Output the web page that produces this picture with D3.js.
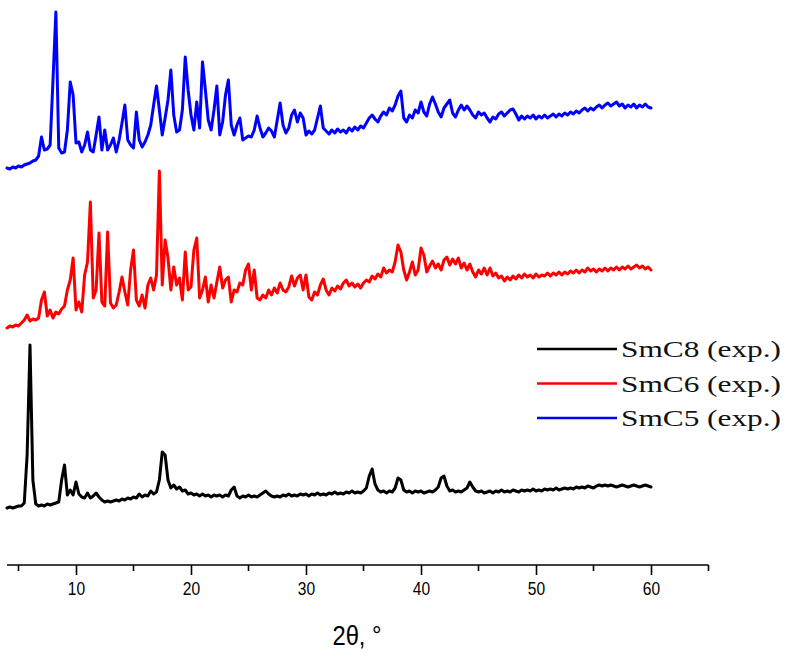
<!DOCTYPE html>
<html>
<head>
<meta charset="utf-8">
<script src="https://cdn.jsdelivr.net/npm/d3@7"></script>
<style>
  html, body { margin: 0; padding: 0; background: #fff; }
  svg { display: block; }
</style>
</head>
<body>
<svg id="chart" width="792" height="666"></svg>
<script>
// Powder XRD patterns, 2θ from 4° to 60° in 0.25° steps
const twoThetaStart = 4.0;
const twoThetaStep = 0.25;

const seriesNames = ["SmC8 (exp.)", "SmC6 (exp.)", "SmC5 (exp.)"];
const seriesColors = ["#000000", "#ff0000", "#0000ff"];
// vertical shift applied to each pattern when stacked
const seriesOffsets = [0, 200, 360];

const smc8 = [
  57,58,57,58,59,59,62,110,220,85,61,59,60,59,61,60,61,62,63,85,
  100,70,75,70,83,71,68,67,72,67,69,72,68,65,63,64,63,64,65,64,
  66,65,67,66,68,67,71,68,70,69,74,71,73,85,113,110,85,77,80,76,
  78,74,75,71,72,70,71,69,71,69,70,68,70,69,70,68,70,69,75,78,
  69,67,69,68,70,68,69,68,70,72,74,71,69,68,69,68,70,69,71,69,
  70,69,71,70,71,69,71,70,72,70,71,70,72,71,73,71,72,71,73,72,
  74,72,73,72,74,77,89,96,81,75,73,74,72,74,73,77,87,85,75,73,
  74,72,74,73,74,72,73,74,73,75,78,87,89,79,74,75,73,74,73,75,
  77,83,78,74,73,74,72,73,74,72,74,73,75,73,74,73,75,74,73,75,
  74,75,74,76,74,75,74,76,75,76,75,77,75,76,77,76,77,76,78,77,
  78,77,79,78,77,79,80,79,80,79,80,79,78,79,80,79,78,79,80,79,
  78,79,80,79,78
];

const smc6 = [
  37,39,38,40,39,42,45,50,44,46,45,47,65,73,49,55,47,53,51,56,
  59,75,85,107,55,63,53,90,103,163,67,75,132,63,59,133,62,57,60,73,
  88,73,60,95,115,65,59,70,57,80,87,75,90,194,80,125,107,75,98,80,
  87,65,113,75,78,115,127,67,75,88,63,80,67,83,98,77,85,88,63,75,
  73,82,80,95,101,75,95,67,65,70,67,75,70,77,72,82,75,73,78,89,
  79,87,90,75,90,68,65,73,70,80,86,75,70,77,74,79,76,82,85,79,
  82,78,81,77,82,85,83,89,86,91,88,97,92,95,93,103,120,113,95,85,
  93,103,90,95,117,110,93,99,104,97,101,95,105,108,100,106,101,107,97,102,
  95,101,93,88,95,91,97,90,97,89,92,87,89,84,88,85,89,86,90,87,
  91,88,90,87,91,88,90,89,92,89,92,90,93,90,93,91,94,92,95,92,
  95,93,97,94,96,93,96,94,97,94,97,95,98,95,98,96,99,96,98,100,
  97,99,96,98,95
];

const smc5 = [
  37,36,38,37,39,38,40,41,42,44,45,49,68,55,56,60,125,193,57,52,
  53,75,123,110,62,63,53,60,73,55,53,70,88,55,75,55,60,67,53,65,
  82,100,65,60,57,93,65,58,63,70,80,100,119,95,70,87,105,135,90,73,
  75,95,148,115,90,75,103,77,143,115,85,75,95,119,70,83,110,125,80,70,
  80,87,65,67,69,68,75,89,77,68,72,77,74,68,85,102,80,72,77,90,
  95,83,92,87,70,74,71,75,87,99,77,74,71,75,72,76,73,75,72,77,
  74,78,75,79,77,82,87,90,86,83,89,93,90,97,94,100,109,114,87,83,
  90,87,95,92,103,93,89,101,108,101,93,88,97,101,105,92,88,95,100,95,
  99,95,90,87,93,90,92,87,83,88,86,91,93,89,92,95,96,91,85,89,
  86,89,87,90,86,89,87,90,87,89,91,88,91,89,92,90,93,91,94,92,
  95,97,94,97,95,98,100,97,100,102,99,101,103,99,101,97,100,98,101,97,
  100,98,101,98,97
];

const xTickValues = [10, 20, 30, 40, 50, 60];
const xMinorTickValues = [5, 15, 25, 35, 45, 55, 65];
const xTitle = "2\u03b8, \u00b0";

const series = [smc8, smc6, smc5].map((vals, k) => ({
  name: seriesNames[k],
  color: seriesColors[k],
  offset: seriesOffsets[k],
  points: vals.map((v, i) => [twoThetaStart + i * twoThetaStep, v])
}));

const svg = d3.select("#chart");

const x = d3.scaleLinear().domain([4, 65]).range([7, 708.5]);
const y = d3.scaleLinear().domain([0, 560]).range([565, 5]);

const line = d3.line()
  .x(d => x(d[0]))
  .y(d => y(d[1]));

const order = [2, 1, 0];
svg.append("g")
  .selectAll("path")
  .data(order.map(k => series[k]))
  .join("path")
  .attr("fill", "none")
  .attr("stroke", d => d.color)
  .attr("stroke-width", 3)
  .attr("stroke-linejoin", "round")
  .attr("stroke-linecap", "round")
  .attr("d", d => line(d.points.map(p => [p[0], p[1] + d.offset])));

// bottom axis with major and minor ticks
const axisY = 565;
const axisFont = "'Liberation Sans', Arial, sans-serif";
const axisG = svg.append("g").attr("transform", `translate(0,${axisY})`);

axisG.call(d3.axisBottom(x)
    .tickValues(xTickValues)
    .tickFormat(d3.format("d"))
    .tickSize(10)
    .tickPadding(7))
  .call(g => g.select(".domain").attr("stroke", "#000").attr("stroke-width", 1.6)
    .attr("d", `M${x(4)},0H${x(65)}`))
  .call(g => g.selectAll(".tick line").attr("stroke", "#000").attr("stroke-width", 1.6))
  .call(g => g.selectAll(".tick text")
    .attr("fill", "#000")
    .attr("font-family", axisFont)
    .attr("font-size", 19)
    .attr("transform", "scale(0.82,1)"));

axisG.call(g => g.append("g")
  .selectAll("line")
  .data(xMinorTickValues)
  .join("line")
  .attr("x1", d => x(d)).attr("x2", d => x(d))
  .attr("y1", 0).attr("y2", 6)
  .attr("stroke", "#000").attr("stroke-width", 1.6));

svg.append("g")
  .attr("transform", "translate(357,645) scale(0.85,1)")
  .append("text")
  .attr("text-anchor", "middle")
  .attr("font-family", axisFont)
  .attr("font-size", 28)
  .attr("fill", "#000")
  .text(xTitle);

// legend
const legend = svg.append("g").attr("transform", "translate(537,349)");
const rows = legend.selectAll("g")
  .data(series)
  .join("g")
  .attr("transform", (d, i) => `translate(0,${i * 34.5})`);

rows.append("line")
  .attr("x1", 0).attr("x2", 80)
  .attr("y1", 0).attr("y2", 0)
  .attr("stroke", d => d.color)
  .attr("stroke-width", 2.6);

rows.append("text")
  .attr("x", 84)
  .attr("y", 8)
  .attr("font-family", "'Liberation Serif', 'DejaVu Serif', serif")
  .attr("font-size", 24)
  .attr("fill", "#111")
  .attr("textLength", 160)
  .attr("lengthAdjust", "spacingAndGlyphs")
  .text(d => d.name);
</script>
</body>
</html>
